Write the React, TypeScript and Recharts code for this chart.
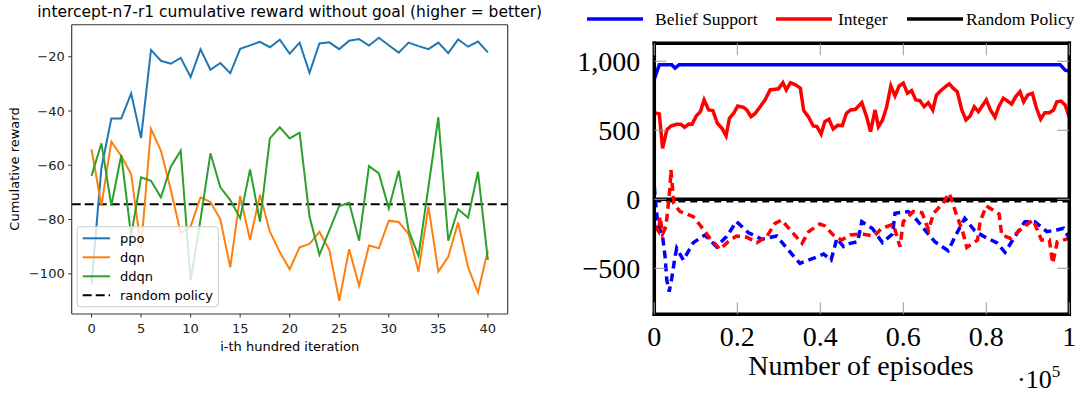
import React from 'react';
import { LineChart, Line, XAxis, YAxis, ReferenceLine } from 'recharts';

// ---------- Left chart data ----------
const iterations = [0, 1, 2, 3, 4, 5, 6, 7, 8, 9, 10, 11, 12, 13, 14, 15, 16, 17, 18, 19, 20, 21, 22, 23, 24, 25, 26, 27, 28, 29, 30, 31, 32, 33, 34, 35, 36, 37, 38, 39, 40];
const ppoReward = [-103.5, -61, -42.8, -42.8, -33.5, -50, -17.5, -21.5, -22.6, -20.4, -27.5, -17.3, -24.8, -22.3, -26.1, -17.1, -15.8, -14.5, -16.5, -13.7, -18.9, -14.8, -25.9, -15.1, -14.7, -17.2, -14.1, -13.5, -15.9, -13.0, -15.8, -18.5, -14.8, -16.1, -17.2, -14.8, -18.7, -13.6, -16.3, -14.4, -18.4];
const dqnReward = [-54.1, -74.9, -51.3, -56.6, -63.2, -90.6, -46.6, -54.6, -69, -85, -82.6, -71.8, -73.5, -79.9, -97.6, -71.3, -87.5, -70.9, -84.5, -92.0, -98.3, -90.2, -89, -84.5, -91.2, -109.9, -90.9, -104.4, -89.6, -90.6, -80.4, -80.9, -85.3, -99.2, -75.2, -99.2, -93.7, -81.1, -97.6, -106.9, -91.4];
const ddqnReward = [-63.9, -51.9, -74.9, -56.2, -86, -64.4, -65.7, -71.8, -60.5, -54.6, -102.3, -80, -55.6, -68.1, -72.8, -79.5, -61.5, -80.8, -50.1, -46, -50.1, -48, -78.9, -93, -84, -75, -73.8, -87.8, -60.3, -63, -75.9, -62, -84, -93.4, -68, -42.3, -87.8, -76.2, -79.3, -62.4, -94.9];
const randomPolicyReward = -74.4;
const leftXTicks = [0, 5, 10, 15, 20, 25, 30, 35, 40];
const leftYTicks = [-100, -80, -60, -40, -20];
const leftLegend = ['ppo', 'dqn', 'ddqn', 'random policy'];

// ---------- Right chart data ----------
const beliefTrainX = [0, 0.012, 0.042, 0.05, 0.06, 0.978, 0.99, 1.0];
const beliefTrainY = [870, 975, 975, 950, 975, 975, 935, 930];

const integerTrainX = [
  0, 0.012, 0.02, 0.03, 0.04, 0.054, 0.064, 0.073, 0.083, 0.091,
  0.101, 0.111, 0.12, 0.131, 0.141, 0.152, 0.163, 0.173, 0.181, 0.192,
  0.201, 0.215, 0.223, 0.233, 0.243, 0.255, 0.267, 0.279, 0.291, 0.299,
  0.31, 0.318, 0.328, 0.34, 0.352, 0.36, 0.372, 0.383, 0.392, 0.402,
  0.411, 0.421, 0.431, 0.442, 0.453, 0.463, 0.473, 0.485, 0.5, 0.512,
  0.521, 0.532, 0.54, 0.55, 0.56, 0.57, 0.58, 0.59, 0.6, 0.61,
  0.62, 0.63, 0.64, 0.65, 0.66, 0.671, 0.68, 0.692, 0.704, 0.711,
  0.72, 0.73, 0.741, 0.751, 0.761, 0.771, 0.781, 0.79, 0.8, 0.81,
  0.821, 0.83, 0.841, 0.85, 0.861, 0.871, 0.881, 0.89, 0.9, 0.911,
  0.921, 0.931, 0.941, 0.952, 0.962, 0.97, 0.98, 0.99, 1.0,
];
const integerTrainY = [
  628, 618, 369, 502, 531, 543, 543, 522, 545, 543,
  604, 635, 720, 647, 643, 551, 514, 459, 587, 627,
  676, 666, 647, 598, 622, 671, 720, 792, 797, 800,
  845, 792, 845, 829, 805, 642, 594, 531, 527, 473,
  563, 580, 510, 536, 534, 623, 647, 652, 700, 594,
  490, 647, 526, 575, 671, 821, 749, 821, 841, 768,
  787, 720, 715, 671, 700, 647, 756, 792, 821, 836,
  805, 780, 647, 575, 604, 671, 635, 676, 720, 647,
  594, 671, 732, 715, 690, 744, 780, 707, 756, 768,
  659, 580, 627, 627, 647, 707, 712, 683, 594,
];

const integerTestX = [
  0, 0.01, 0.014, 0.02, 0.028, 0.034, 0.038, 0.04, 0.047, 0.062,
  0.074, 0.094, 0.11, 0.134, 0.158, 0.178, 0.198, 0.223, 0.247, 0.271,
  0.291, 0.307, 0.331, 0.356, 0.372, 0.399, 0.411, 0.431, 0.451, 0.472,
  0.5, 0.53, 0.548, 0.576, 0.592, 0.6, 0.624, 0.645, 0.661, 0.673,
  0.695, 0.711, 0.727, 0.743, 0.753, 0.779, 0.785, 0.8, 0.831, 0.837,
  0.858, 0.893, 0.913, 0.933, 0.952, 0.96, 0.971, 1.0,
];
const integerTestY = [
  -186, -230, -126, -250, -198, -29, 92, 213, -29, -89,
  -101, -126, -186, -283, -362, -307, -266, -275, -314, -270,
  -174, -150, -234, -319, -234, -179, -193, -258, -295, -258,
  -251, -266, -210, -181, -343, -162, -89, -97, -222, -101,
  -29, 43, -101, -234, -348, -295, -162, -48, -106, -258,
  -283, -193, -150, -295, -295, -464, -307, -283,
];

const beliefTestX = [
  0, 0.004, 0.009, 0.02, 0.026, 0.03, 0.036, 0.042, 0.05, 0.054,
  0.07, 0.094, 0.122, 0.15, 0.174, 0.198, 0.227, 0.259, 0.295, 0.323,
  0.351, 0.384, 0.408, 0.426, 0.44, 0.456, 0.472, 0.49, 0.5, 0.525,
  0.55, 0.574, 0.58, 0.612, 0.626, 0.652, 0.676, 0.708, 0.728, 0.748,
  0.772, 0.792, 0.825, 0.845, 0.869, 0.893, 0.917, 0.946, 0.97, 0.986, 1.0,
];
const beliefTestY = [
  92, -53, -186, -270, -415, -584, -669, -572, -415, -355,
  -440, -314, -258, -343, -270, -162, -242, -290, -266, -367,
  -464, -427, -396, -440, -283, -343, -319, -307, -162, -210,
  -314, -251, -101, -89, -126, -222, -307, -372, -251, -138,
  -227, -266, -314, -384, -270, -162, -162, -234, -222, -210, -283,
];

const randomTrainX = [0, 1];
const randomTrainY = [0, 0];
const randomTestX = [0, 1];
const randomTestY = [-15, -15];

const rightXTicks = [0, 0.2, 0.4, 0.6, 0.8, 1];
const rightYTicks = [-500, 0, 500, 1000];
const rightLegend = ['Belief Support', 'Integer', 'Random Policy'];

// ---------- helpers ----------
const leftData = iterations.map((it, i) => ({ it, ppo: ppoReward[i], dqn: dqnReward[i], ddqn: ddqnReward[i] }));
const zip = (xs: number[], ys: number[]) => xs.map((x, i) => ({ x, y: ys[i] }));

const sans = "'DejaVu Sans', sans-serif";
const serif = "'Liberation Serif', 'Times New Roman', serif";

const minus = (v: number) => (v < 0 ? '\u2212' + Math.abs(v) : String(v));
const fmtRightY = (v: number) => (v === 1000 ? '1,000' : minus(v));
const fmtRightX = (v: number) => String(v);

const RightYTick = (props: any) => {
  const { x, y, payload } = props;
  return (
    <g>
      <line x1={x} x2={x + 12} y1={y} y2={y} stroke="#9a9a9a" strokeWidth={1} />
      <text x={x - 14} y={y} textAnchor="end" dominantBaseline="central" fontFamily={serif} fontSize={28} fill="#000">
        {fmtRightY(payload.value)}
      </text>
    </g>
  );
};
const RightYTickR = (props: any) => {
  const { x, y } = props;
  return <line x1={x} x2={x - 12} y1={y} y2={y} stroke="#9a9a9a" strokeWidth={1} />;
};
const RightXTick = (props: any) => {
  const { x, y, payload } = props;
  return (
    <g>
      <line x1={x} x2={x} y1={y} y2={y - 12} stroke="#9a9a9a" strokeWidth={1} />
      <text x={x} y={y + 32} textAnchor="middle" fontFamily={serif} fontSize={28} fill="#000">
        {fmtRightX(payload.value)}
      </text>
    </g>
  );
};
const RightXTickTop = (props: any) => {
  const { x, y } = props;
  return <line x1={x} x2={x} y1={y} y2={y + 12} stroke="#9a9a9a" strokeWidth={1} />;
};

const frameL = { stroke: '#333', strokeWidth: 1.1 };
const frameR = { stroke: '#000', strokeWidth: 3.5, strokeLinecap: 'square' as const };

export default function App() {
  return (
    <div style={{ position: 'absolute', left: 0, top: 0, width: 1086, height: 394, background: '#fff', overflow: 'hidden' }}>
      {/* Left chart */}
      <div style={{ position: 'absolute', left: 0, top: 0 }}>
        <LineChart width={540} height={394} data={leftData} margin={{ top: 23.7, right: 31.3, bottom: 45, left: 0 }}>
          <XAxis
            type="number"
            dataKey="it"
            domain={[-2, 42]}
            ticks={leftXTicks}
            allowDataOverflow
            height={35}
            tickSize={3.5}
            tickMargin={6}
            axisLine={frameL}
            tickLine={{ stroke: '#333' }}
            tick={{ fontSize: 13, fontFamily: sans, fill: '#222' }}
          />
          <XAxis xAxisId="top" orientation="top" type="number" dataKey="it" domain={[-2, 42]} ticks={leftXTicks} allowDataOverflow height={1} tickSize={0} tick={false} tickLine={false} axisLine={frameL} />
          <YAxis
            type="number"
            domain={[-114.8, -8.2]}
            ticks={leftYTicks}
            allowDataOverflow
            width={71.7}
            tickSize={3.5}
            tickMargin={3.5}
            tickFormatter={minus}
            axisLine={frameL}
            tickLine={{ stroke: '#333' }}
            tick={{ fontSize: 13, fontFamily: sans, fill: '#222' }}
          />
          <YAxis yAxisId="right" orientation="right" type="number" domain={[-114.8, -8.2]} ticks={leftYTicks} allowDataOverflow width={1} tickSize={0} tick={false} tickLine={false} axisLine={frameL} />
          <ReferenceLine y={randomPolicyReward} stroke="#000" strokeWidth={2} strokeDasharray="9 4" />
          <Line type="linear" dataKey="ppo" stroke="#1f77b4" strokeWidth={2} dot={false} isAnimationActive={false} />
          <Line type="linear" dataKey="dqn" stroke="#ff7f0e" strokeWidth={2} dot={false} isAnimationActive={false} />
          <Line type="linear" dataKey="ddqn" xAxisId="top" yAxisId="right" stroke="#2ca02c" strokeWidth={2} dot={false} isAnimationActive={false} />
        </LineChart>
      </div>

      {/* Right chart */}
      <div style={{ position: 'absolute', left: 560, top: 0 }}>
        <LineChart width={526} height={394} margin={{ top: 42.3, right: 15.7, bottom: 29.7, left: 0 }}>
          <XAxis
            type="number"
            dataKey="x"
            domain={[0, 1]}
            ticks={rightXTicks}
            allowDataOverflow
            height={50}
            tickSize={0}
            tickMargin={0}
            tickLine={false}
            axisLine={frameR}
            tick={<RightXTick />}
          />
          <XAxis xAxisId="top" orientation="top" type="number" dataKey="x" domain={[0, 1]} ticks={rightXTicks} allowDataOverflow height={1} tickSize={0} tickMargin={0} tickLine={false} axisLine={frameR} tick={<RightXTickTop />} />
          <YAxis
            type="number"
            domain={[-833, 1130]}
            ticks={rightYTicks}
            allowDataOverflow
            width={94.3}
            tickSize={0}
            tickMargin={0}
            tickLine={false}
            axisLine={frameR}
            tick={<RightYTick />}
          />
          <YAxis yAxisId="right" orientation="right" type="number" domain={[-833, 1130]} ticks={rightYTicks} allowDataOverflow width={1} tickSize={0} tickMargin={0} tickLine={false} axisLine={frameR} tick={<RightYTickR />} />
          <Line data={zip(randomTrainX, randomTrainY)} dataKey="y" xAxisId="top" yAxisId="right" stroke="#000" strokeWidth={3.5} dot={false} isAnimationActive={false} />
          <Line data={zip(randomTestX, randomTestY)} dataKey="y" stroke="#000" strokeWidth={2.5} strokeDasharray="7 5" dot={false} isAnimationActive={false} />
          <Line data={zip(beliefTrainX, beliefTrainY)} dataKey="y" stroke="#0000ff" strokeWidth={3.5} dot={false} isAnimationActive={false} />
          <Line data={zip(integerTrainX, integerTrainY)} dataKey="y" stroke="#ff0000" strokeWidth={3.5} dot={false} isAnimationActive={false} />
          <Line data={zip(beliefTestX, beliefTestY)} dataKey="y" stroke="#0000ff" strokeWidth={3.5} strokeDasharray="8 5" dot={false} isAnimationActive={false} />
          <Line data={zip(integerTestX, integerTestY)} dataKey="y" stroke="#ff0000" strokeWidth={3.5} strokeDasharray="8 5" dot={false} isAnimationActive={false} />
        </LineChart>
      </div>

      {/* Text overlay: titles, labels, legends */}
      <svg width={1086} height={394} style={{ position: 'absolute', left: 0, top: 0, pointerEvents: 'none' }}>
        <text x={289.7} y={12} textAnchor="middle" dominantBaseline="central" fontFamily={sans} fontSize={15.5} fill="#000">
          intercept-n7-r1 cumulative reward without goal (higher = better)
        </text>
        <text transform="translate(14,169) rotate(-90)" textAnchor="middle" dominantBaseline="central" fontFamily={sans} fontSize={13} fill="#000">
          Cumulative reward
        </text>
        <text x={289.7} y={346.7} textAnchor="middle" dominantBaseline="central" fontFamily={sans} fontSize={13} fill="#000">
          i-th hundred iteration
        </text>

        {/* left legend */}
        <rect x={77.3} y={226.7} width={141} height={80} rx={3} fill="#fff" fillOpacity={0.8} stroke="#cccccc" strokeWidth={1} />
        {leftLegend.map((name, i) => {
          const cy = 238.3 + i * 19;
          const colors = ['#1f77b4', '#ff7f0e', '#2ca02c', '#000'];
          return (
            <g key={name}>
              <line x1={82.7} x2={110} y1={cy} y2={cy} stroke={colors[i]} strokeWidth={2} strokeDasharray={i === 3 ? '9 4' : undefined} />
              <text x={120} y={cy} dominantBaseline="central" fontFamily={sans} fontSize={13} fill="#000">{name}</text>
            </g>
          );
        })}

        {/* right legend */}
        {rightLegend.map((name, i) => {
          const lx = [587, 776, 907][i];
          const tx = [655, 838, 966][i];
          const colors = ['#0000ff', '#ff0000', '#000'];
          return (
            <g key={name}>
              <line x1={lx} x2={lx + 56} y1={19} y2={19} stroke={colors[i]} strokeWidth={3.5} />
              <text x={tx} y={19} dominantBaseline="central" fontFamily={serif} fontSize={17.5} fill="#000">{name}</text>
            </g>
          );
        })}

        <text x={861} y={375} textAnchor="middle" fontFamily={serif} fontSize={28} fill="#000">Number of episodes</text>
        <text x={1017} y={388} fontFamily={serif} fontSize={26} fill="#000">
          ·10<tspan dy={-11} fontSize={17}>5</tspan>
        </text>
      </svg>
    </div>
  );
}
